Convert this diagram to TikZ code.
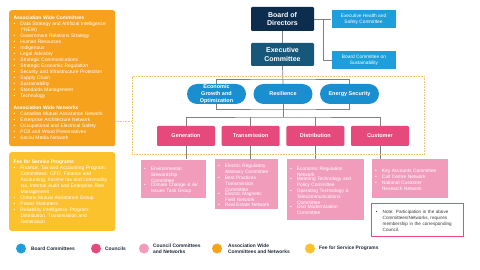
\documentclass[tikz,border=0pt]{standalone}
\usepackage{fontspec}
\setmainfont{Liberation Sans}
\usetikzlibrary{calc}
\definecolor{navy}{HTML}{0C2D4E}
\definecolor{execc}{HTML}{17587A}
\definecolor{bblue}{HTML}{1E9EDA}
\definecolor{pblue}{HTML}{1A8FD0}
\definecolor{cpink}{HTML}{E6497B}
\definecolor{lpink}{HTML}{F29CBB}
\definecolor{aorange}{HTML}{F7A21C}
\definecolor{fyellow}{HTML}{FCC22D}
\definecolor{linegray}{HTML}{808080}
\definecolor{dotc}{HTML}{F2C46D}
\definecolor{legtext}{HTML}{1F2A3C}
\definecolor{notetext}{HTML}{3A3A3A}
\newcommand{\bl}[1]{\par\noindent\makebox[6.8pt][l]{\textbullet}\parbox[t]{\dimexpr\linewidth-6.8pt\relax}{\raggedright #1}}
\pgfdeclarelayer{bg}
\pgfsetlayers{bg,main}
\begin{document}
\begin{tikzpicture}[x=1pt,y=-1pt,
  conn/.style={draw=linegray, line width=0.7pt},
  topbox/.style={text=white, minimum width=63pt, inner sep=0pt, align=center, rounded corners=1.2pt, font=\fontsize{7}{8.7}\selectfont\bfseries},
  bc/.style={fill=bblue, text=white, minimum width=64pt, minimum height=18pt, inner sep=0pt, align=center, font=\fontsize{4.8}{6.3}\selectfont},
  pill/.style={fill=pblue, text=white, rounded corners=10pt, minimum width=59pt, minimum height=20pt, inner sep=0pt, align=center, font=\fontsize{5.5}{7}\selectfont\bfseries},
  council/.style={fill=cpink, text=white, minimum width=58pt, minimum height=20pt, inner sep=0pt, rounded corners=1.2pt, font=\fontsize{5.5}{7}\selectfont\bfseries},
  sub/.style={fill=lpink, text=white, anchor=north west, inner xsep=3pt, inner ysep=0pt, align=left, font=\fontsize{4.8}{6}\selectfont},
  bigbox/.style={text=white, anchor=north west, inner xsep=4.5pt, inner ysep=0pt, text width=97pt, align=left, rounded corners=2.5pt, font=\fontsize{4.9}{6}\selectfont},
  lcirc/.style={circle, minimum size=10pt, inner sep=0pt},
  ltext/.style={anchor=west, inner sep=0pt, align=left, text=legtext, font=\fontsize{4.9}{6}\selectfont\bfseries}
]
\begin{pgfonlayer}{bg}
\fill[white] (0,0) rectangle (480,270);
\end{pgfonlayer}
\useasboundingbox (0,0) rectangle (480,270);

% dotted frame
\node[draw=dotc, dash pattern=on 0.7pt off 0.9pt, line width=0.7pt, minimum width=292pt, minimum height=78pt, anchor=north west, inner sep=0pt] (frame) at (132,76) {};

% left boxes
\node[bigbox, fill=aorange, minimum height=136pt] (assoc) at (9,10) {%
{\bfseries Association Wide Committees}%
\bl{Data Strategy and Artificial Intelligence\newline (*NEW)}%
\bl{Government Relations Strategy}%
\bl{Human Resources}%
\bl{Indigenous}%
\bl{Legal Advisory}%
\bl{Strategic Communications}%
\bl{Strategic Economic Regulation}%
\bl{Security and Infrastructure Protection}%
\bl{Supply Chain}%
\bl{Sustainability}%
\bl{Standards Management}%
\bl{Technology}%
\par\vspace{6.5pt}\noindent{\bfseries Association Wide Networks}%
\bl{Canadian Mutual Assistance Network}%
\bl{Enterprise Architecture Network}%
\bl{Occupational and Electrical Safety}%
\bl{PCB and Wood Preservatives}%
\bl{Social Media Network}};

\node[bigbox, fill=fyellow, minimum height=78.7pt] (fee) at (9,152) {%
{\bfseries Fee for Service Programs}%
\bl{Finance, Tax and Accounting Program:\newline Committees: CFO, Finance and\newline Accounting, Income tax and commodity\newline tax, Internal Audit and Enterprise Risk\newline Management}%
\bl{Ontario Mutual Assistance Group}%
\bl{Power Marketers}%
\bl{Reliability Intelligence Program:\newline Distribution, Transmission and\newline Generation}};

% top
\node[topbox, fill=navy, minimum height=24pt] (bod) at (282.5,19) {Board of\\Directors};
\node[topbox, fill=execc, minimum height=23pt] (exec) at (282.5,54.5) {Executive\\Committee};
\node[bc] (ehs) at (363.5,19.5) {Executive Health and\\Safety Committee};
\node[bc] (sus) at (364,60.5) {Board Committee on\\Sustainability};

% pills
\node[pill] (econ) at (216.5,94) {Economic\\Growth and\\Optimization};
\node[pill] (resil) at (283,94) {Resilience};
\node[pill] (energy) at (349.5,94) {Energy Security};

% councils
\node[council] (gen) at (186,136) {Generation};
\node[council] (trans) at (250.7,136) {Transmission};
\node[council] (dist) at (315.3,136) {Distribution};
\node[council] (cust) at (380,136) {Customer};

% council committees
\node[sub, text width=59pt, minimum height=38.5pt] (gensub) at (141,159.5) {%
\bl{Environmental\newline Stewardship\newline Committee}%
\bl{Climate Change \& Air\newline Issues Task Group}};
\node[sub, text width=57pt, minimum height=49pt] (transsub) at (215,159.3) {%
\bl{Electric Regulatory\newline Advisory Committee}%
\bl{Best Practices\newline Transmission\newline Committee}%
\bl{Electric Magnetic\newline Field Network}%
\bl{Real Estate Network}};
\node[sub, text width=71pt, minimum height=61pt] (distsub) at (287,159) {%
\bl{Economic Regulation\newline Network}%
\bl{Metering Technology and\newline Policy Committee}%
\bl{Operating Technology \&\newline Telecommunications\newline Committee}%
\bl{Grid Modernization\newline Committee}};
\node[sub, text width=70pt, minimum height=39pt] (custsub) at (372,159) {%
\bl{Key Accounts Committee}%
\bl{Call Centre Network}%
\bl{National Customer\newline Research Network}};

% note
\node[draw=cpink, line width=0.8pt, fill=white, text=notetext, anchor=north west, inner xsep=4.5pt, inner ysep=0pt, text width=83pt, minimum height=33pt, align=left, font=\fontsize{4.6}{6}\selectfont] (note) at (371,203) {%
\bl{Note: Participation in the above\newline Committees/Networks, requires\newline membership in the corresponding\newline Council.}};

% connectors
\coordinate (bj) at (323,19);
\coordinate (tb) at (283,79);
\coordinate (bb) at (283,109);
\coordinate (cb) at (283,117);
\coordinate (dl) at (115,121);
\begin{pgfonlayer}{bg}
\draw[conn] (bod.south) -- (exec.north);
\draw[conn] (bod.east) -- (ehs.west |- bod.east);
\draw[conn] (bj) |- (sus.west);
\draw[conn] (exec.south) -- (resil.north);
\draw[conn] (econ.north) |- (tb) -| (energy.north);
\draw[conn] (econ.south) |- (bb) -| (energy.south);
\draw[conn] (resil.south) -- (cb);
\draw[conn] (gen.north) |- (cb) -| (cust.north);
\draw[conn] (trans.north) -- (trans.north |- cb);
\draw[conn] (dist.north) -- (dist.north |- cb);
\draw[conn] (gen.south) -- (gen.south |- gensub.north);
\draw[conn] (trans.south) -- (trans.south |- transsub.north);
\draw[conn] (dist.south) -- (dist.south |- distsub.north);
\draw[conn] (cust.south) -- (cust.south |- custsub.north);
\end{pgfonlayer}
\draw[draw=dotc, dash pattern=on 0.7pt off 0.9pt, line width=0.7pt] (dl) -- (dl -| frame.west);

% legend
\node[lcirc, fill=bblue] (lc1) at (21,248.5) {};
\node[ltext] (lt1) at (31,248.5) {Board Committees};
\node[lcirc, fill=cpink] (lc2) at (96,248.5) {};
\node[ltext] (lt2) at (105,248.5) {Councils};
\node[lcirc, fill=lpink] (lc3) at (144,248.5) {};
\node[ltext] (lt3) at (153,249) {Council Committees\\and Networks};
\node[lcirc, fill=aorange] (lc4) at (217,248.5) {};
\node[ltext] (lt4) at (228,249) {Association Wide\\Committees and Networks};
\node[lcirc, fill=fyellow] (lc5) at (310,248.5) {};
\node[ltext] (lt5) at (319,248.5) {Fee for Service Programs};
\end{tikzpicture}
\end{document}
